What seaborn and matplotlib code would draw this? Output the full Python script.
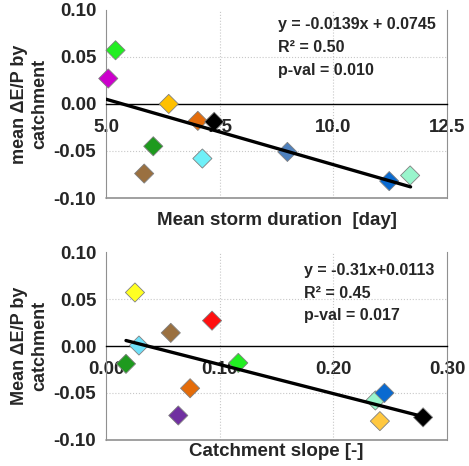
import seaborn as sns
import matplotlib.pyplot as plt
import numpy as np
import pandas as pd

# panel 1 : mean storm duration
storm_dur = [5.05, 5.21, 5.84, 6.04, 6.38, 7.02, 7.38, 7.12, 8.99, 11.23, 11.69]
storm_dep = [0.027, 0.057, -0.074, -0.045, 0.000, -0.018, -0.019, -0.058, -0.051, -0.082, -0.076]
storm_col = ['#cc00cc', '#22ee22', '#9a7040', '#1e9a1e', '#ffc000', '#e46c0a',
             '#000000', '#6ff0f8', '#4f81bd', '#0a6ad0', '#99f5cc']
storm_fit = (-0.0139, 0.0745)
storm_xrange = [5.0, 11.7]

# panel 2 : catchment slope
slope = [0.0255, 0.0933, 0.057, 0.029, 0.0176, 0.1164, 0.074, 0.0636, 0.237, 0.245, 0.241, 0.279]
slope_dep = [0.057, 0.027, 0.014, 0.0005, -0.019, -0.018, -0.045, -0.074, -0.058, -0.050, -0.080, -0.076]
slope_col = ['#ffff22', '#ff1010', '#9a7040', '#6fe0f8', '#1e9a1e', '#22ee22',
             '#e46c0a', '#7030a0', '#99f5cc', '#0a6ad0', '#ffc840', '#000000']
slope_fit = (-0.31, 0.0113)
slope_xrange = [0.0176, 0.279]

sns.set_style('white')
plt.rcParams['font.family'] = ['Liberation Sans', 'DejaVu Sans']
plt.rcParams['font.weight'] = 'bold'

fig = plt.figure(figsize=(4.69, 4.66), dpi=100)
ax1 = fig.add_axes([0.226, 0.575, 0.727, 0.404])
ax2 = fig.add_axes([0.226, 0.056, 0.727, 0.403])


def panel(ax, x, y, cols, fit, xr, xlim, xticks, xfmt, xlabel, xly, ylabel, txt, tx, ty):
    df = pd.DataFrame({'x': x, 'y': y, 'c': [str(i) for i in range(len(x))]})
    sns.scatterplot(data=df, x='x', y='y', hue='c', palette=cols, marker='D', s=95,
                    edgecolor='#808080', linewidth=0.6, legend=False, ax=ax, zorder=3,
                    clip_on=False)
    xs = np.array(xr)
    sns.lineplot(x=xs, y=fit[0] * xs + fit[1], color='black', linewidth=2.4, ax=ax, zorder=4)
    # x axis crosses at y = 0 (set before ticks: this resets them)
    ax.spines['bottom'].set_position(('data', 0))
    ax.spines['bottom'].set_color('black')
    ax.spines['bottom'].set_linewidth(1.0)
    ax.spines['top'].set_visible(False)
    for s in ['left', 'right']:
        ax.spines[s].set_color('#909090')
    ax.set_xlim(xlim)
    ax.set_ylim(-0.10, 0.10)
    yt = [-0.10, -0.05, 0.00, 0.05, 0.10]
    ax.set_yticks(yt)
    ax.set_yticklabels(['%.2f' % v for v in yt], fontsize=13.5, fontweight='bold')
    ax.set_xticks(xticks)
    ax.set_xticklabels([xfmt % v for v in xticks], fontsize=13.5, fontweight='bold')
    for v in xticks[1:-1]:
        ax.axvline(v, color='#c8c8c8', linestyle=':', linewidth=0.8, zorder=1)
    for v in [-0.05, 0.05]:
        ax.axhline(v, color='#c8c8c8', linestyle=':', linewidth=0.8, zorder=1)
    ax.axhline(-0.10, color='#909090', linewidth=1.2, clip_on=False)
    ax.tick_params(axis='y', length=4, color='#909090', pad=3)
    ax.tick_params(axis='x', length=4, color='#909090', direction='inout', pad=9)
    ax.set_xlabel('')
    ax.text(0.5, xly, xlabel, transform=ax.transAxes, fontsize=13.5,
            fontweight='bold', ha='center', va='center')
    ax.set_ylabel(ylabel, fontsize=13, fontweight='bold', linespacing=1.25)
    ax.yaxis.set_label_coords(-0.17, 0.5)
    for i, t in enumerate(txt):
        ax.text(tx, ty - i * 0.122, t, transform=ax.transAxes, fontsize=11.5,
                fontweight='bold', va='center')


panel(ax1, storm_dur, storm_dep, storm_col, storm_fit, storm_xrange, (5.0, 12.5),
      [5.0, 7.5, 10.0, 12.5], '%.1f', 'Mean storm duration  [day]', -0.117,
      'mean \u0394E/P by\ncatchment',
      ['y = -0.0139x + 0.0745', 'R\u00b2 = 0.50', 'p-val = 0.010'], 0.504, 0.92)

panel(ax2, slope, slope_dep, slope_col, slope_fit, slope_xrange, (0.0, 0.30),
      [0.0, 0.1, 0.2, 0.3], '%.2f', 'Catchment slope [-]', -0.06,
      'Mean \u0394E/P by\ncatchment',
      ['y = -0.31x+0.0113', 'R\u00b2 = 0.45', 'p-val = 0.017'], 0.58, 0.904)

fig.savefig('out.png', dpi=100)
